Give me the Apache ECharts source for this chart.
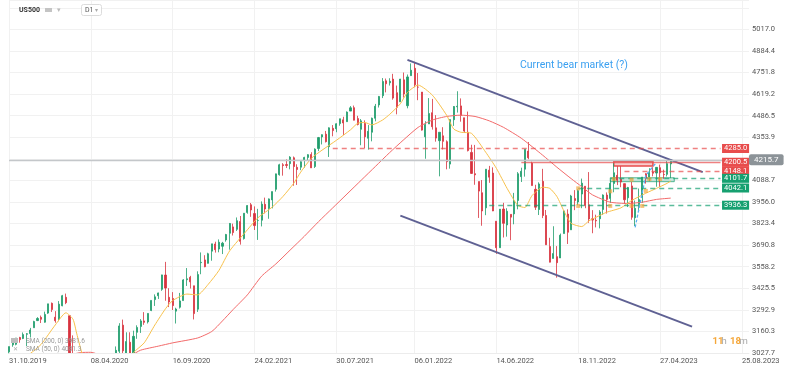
<!DOCTYPE html>
<html><head><meta charset="utf-8">
<script src="https://cdn.jsdelivr.net/npm/echarts@6/dist/echarts.min.js"></script>
<style>html,body{margin:0;padding:0;background:#fff}#c{width:791px;height:383px}</style>
</head><body><div id="c"></div>
<script>
// ---- axis ticks ----
const xTickLabels = ['31.10.2019','08.04.2020','16.09.2020','24.02.2021','30.07.2021','06.01.2022','14.06.2022','18.11.2022','27.04.2023','25.08.2023'];
const xTickSlots = [0,23,46,69,92,114,137,160,183,206];
const yTickLabels = ['3027.7','3160.3','3292.9','3425.5','3558.2','3690.8','3823.4','3956.0','4088.7','4221.3','4353.9','4486.5','4619.2','4751.8','4884.4','5017.0'];
const yMin = 3027.7, yStep = 132.62, yMax = 5198;
const slotCount = 209; // weekly slots, incl. future space

// ---- weekly candles [open, close, low, high] ----
const w2019 = [[3035,3067,3023,3067],[3078,3093,3066,3097],[3081,3120,3075,3120],[3123,3110,3091,3127],[3117,3141,3113,3154],[3143,3146,3070,3150],[3147,3169,3123,3182],[3183,3221,3183,3226],[3227,3240,3224,3248]];
const w2020 = [[3247,3235,3212,3258],[3217,3265,3214,3282],[3273,3330,3268,3330],[3333,3295,3280,3338],[3248,3226,3214,3285],[3236,3328,3223,3347],[3318,3380,3315,3385],[3370,3337,3328,3393],[3257,2954,2855,3259],[2974,2972,2945,3136],[2863,2711,2478,2882],[2508,2305,2280,2553],[2290,2541,2192,2637],[2514,2489,2447,2641],[2578,2790,2574,2818],[2782,2875,2727,2880],[2845,2837,2727,2868],[2854,2831,2822,2955],[2815,2930,2797,2932],[2915,2864,2766,2954],[2910,2955,2910,2980],[2997,3044,2970,3068],[3039,3194,3025,3211],[3199,3041,2984,3233],[3000,3098,2965,3155],[3094,3009,3005,3155],[3018,3130,3000,3165],[3155,3185,3115,3198],[3191,3225,3151,3236],[3225,3216,3201,3279],[3219,3271,3209,3272],[3289,3351,3285,3352],[3356,3373,3317,3388],[3380,3397,3360,3399],[3419,3508,3410,3509],[3507,3427,3349,3588],[3370,3341,3310,3426],[3363,3319,3292,3402],[3285,3298,3209,3306],[3309,3348,3301,3397],[3350,3477,3350,3482],[3478,3484,3440,3550],[3493,3465,3424,3502],[3441,3270,3234,3441],[3297,3510,3280,3530],[3583,3585,3512,3646],[3600,3558,3555,3629],[3579,3638,3578,3644],[3654,3699,3595,3699],[3698,3663,3645,3712],[3667,3709,3647,3726],[3684,3703,3636,3711],[3723,3756,3712,3760]];
const w2021 = [[3764,3824,3663,3827],[3803,3768,3750,3823],[3788,3841,3778,3861],[3836,3714,3694,3870],[3731,3887,3725,3887],[3892,3934,3884,3937],[3939,3907,3865,3950],[3885,3811,3784,3929],[3842,3842,3723,3914],[3844,3943,3806,3960],[3942,3913,3886,3983],[3916,3975,3853,3978],[3969,4020,3917,4020],[4034,4129,4020,4130],[4124,4185,4118,4191],[4185,4180,4118,4195],[4186,4181,4165,4218],[4192,4232,4157,4238],[4228,4174,4056,4236],[4169,4156,4061,4188],[4170,4204,4152,4213],[4216,4230,4167,4234],[4230,4247,4210,4250],[4248,4166,4165,4262],[4174,4281,4165,4286],[4285,4352,4269,4356],[4356,4370,4310,4372],[4373,4327,4322,4393],[4296,4412,4233,4415],[4409,4395,4360,4429],[4406,4437,4385,4440],[4438,4468,4425,4468],[4461,4442,4367,4480],[4450,4509,4450,4513],[4515,4535,4515,4546],[4536,4459,4458,4549],[4469,4433,4427,4486],[4403,4455,4305,4466],[4439,4357,4288,4458],[4348,4391,4278,4429],[4385,4471,4329,4475],[4471,4545,4452,4559],[4553,4605,4537,4608],[4610,4697,4595,4718],[4701,4683,4630,4715],[4689,4698,4672,4717],[4712,4595,4585,4744],[4628,4538,4495,4672],[4572,4712,4572,4713],[4707,4620,4598,4752],[4548,4725,4532,4740],[4733,4766,4733,4808]];
const w2022 = [[4778,4677,4662,4818],[4662,4662,4582,4749],[4632,4398,4395,4632],[4357,4432,4222,4453],[4436,4500,4436,4595],[4505,4419,4401,4590],[4412,4349,4327,4490],[4333,4385,4114,4385],[4363,4329,4279,4416],[4327,4204,4157,4335],[4189,4463,4161,4465],[4462,4543,4424,4546],[4541,4545,4506,4637],[4547,4488,4450,4593],[4474,4392,4381,4474],[4385,4272,4267,4512],[4261,4132,4129,4308],[4130,4123,4062,4307],[4082,4023,3858,4082],[4013,3901,3810,4091],[3920,4158,3875,4158],[4152,4109,4074,4178],[4134,3901,3900,4169],[3838,3675,3637,3838],[3675,3912,3675,3913],[3913,3825,3738,3951],[3815,3899,3743,3918],[3880,3863,3721,3880],[3883,3962,3819,4012],[3965,4130,3911,4140],[4112,4145,4079,4167],[4158,4280,4112,4280],[4269,4228,4219,4325],[4195,4057,4057,4204],[4034,3924,3907,4062],[3910,4067,3876,4077],[4083,3873,3857,4160],[3873,3693,3693,3907],[3682,3586,3585,3736],[3609,3639,3609,3807],[3620,3583,3491,3685],[3612,3752,3612,3762],[3762,3901,3762,3905],[3882,3770,3698,3911],[3785,3993,3785,4000],[3977,3965,3906,4029],[3956,4026,3936,4034],[4005,4072,3918,4100],[4053,3934,3918,4053],[3939,3852,3828,4140],[3853,3845,3764,3906],[3843,3840,3800,3878]];
const w2023 = [[3853,3895,3794,3906],[3910,3999,3877,4003],[3999,3972,3885,4015],[3978,4071,3950,4094],[4070,4136,4016,4195],[4120,4090,4060,4176],[4096,4079,4047,4176],[4069,3970,3944,4070],[3982,4045,3925,4049],[4055,3862,3847,4079],[3859,3917,3808,3965],[3940,3971,3901,4039],[3986,4109,3951,4110],[4130,4105,4069,4133],[4110,4137,4084,4164],[4140,4133,4114,4170],[4134,4169,4050,4170],[4167,4136,4048,4186],[4126,4124,4099,4155],[4126,4192,4113,4212],[4190,4215.7,4103,4218]];

// ---- moving averages [slot, value] ----
const sma50 = [[0,2950],[3,2985],[6,3025],[9,3080],[13,3200],[16,3275],[18,3235],[19,3150],[21,2990],[24,2840],[27,2790],[31,2900],[35,3030],[38,3090],[41,3200],[44,3300],[46,3350],[50,3390],[53,3385],[56,3450],[59,3535],[62,3655],[67,3785],[70,3860],[74,3925],[77,3990],[80,4070],[82,4140],[85,4225],[88,4275],[92,4335],[96,4400],[98,4440],[100,4445],[102,4430],[105,4460],[107,4495],[110,4560],[112,4630],[115,4675],[119,4613],[123,4490],[125,4405],[127,4385],[130,4378],[134,4262],[137,4163],[140,4040],[143,3935],[145,3922],[147,3995],[150,4047],[152,4040],[154,3990],[156,3900],[158,3825],[161,3805],[163,3840],[165,3862],[168,3893],[172,3920],[175,3965],[179,4010],[182,4040],[185,4071],[186,4085]];
const sma200 = [[0,2910],[10,2980],[17,3015],[20,3030],[23,3032],[27,3005],[31,2995],[34,3010],[37,3045],[42,3070],[46,3090],[53,3120],[57,3160],[60,3225],[63,3295],[67,3385],[71,3500],[75,3575],[79,3660],[83,3745],[87,3835],[91,3920],[95,4005],[99,4090],[103,4175],[107,4260],[111,4340],[115,4415],[119,4460],[123,4482],[127,4490],[131,4482],[135,4455],[139,4415],[144,4348],[150,4244],[154,4170],[158,4100],[161,4050],[164,4000],[169,3955],[174,3947],[178,3955],[182,3972],[186,3980]];

// ---- drawn annotations ----
const upperTrend = [[112,4830],[195,4140]];
const lowerTrend = [[110,3872],[192,3190]];
const levelPrices = [4285.0,4200.5,4148.1,4101.7,4042.1,3936.3];
const levelStart  = [91,144,173,169,160,135];
const levelKind   = ['res','res','res','sup','sup','sup'];
const levelEnd = 200;
const lastPrice = 4215.7;
const resZone = [[170,4205],[181,4178]];
const supZone = [[169,4105],[187,4081]];
const pivots = [[160,4040],[169,4022],[160,3932],[169,3932],[170,4097],[175,4093],[180,4097],[183,4097],[179,4024],[178,3932],[175,3932]];
const blueRun = [[176,3800],[179,4120],[182,4200]];

const RED = '#e84c4c', GREEN = '#16a070', FONT = 'Roboto, sans-serif';
const candles = [].concat(w2019, w2020, w2021, w2022, w2023);
const cats = Array.from({length: slotCount}, (_, i) => 'w' + i);
const tickSet = new Set(xTickSlots);
const labelAt = {}; xTickSlots.forEach((s, i) => { labelAt[s] = xTickLabels[i]; });

const levelLines = levelPrices.map((p, i) => {
  const isRes = levelKind[i] === 'res';
  const solid = (p === 4200.5);
  return [{
    coord: [levelStart[i], p],
    lineStyle: {color: isRes ? 'rgba(232,76,76,0.7)' : 'rgba(22,160,112,0.7)', width: 1.3, type: solid ? 'solid' : [5, 4]},
    label: {show: true, position: 'end', distance: 1.5, formatter: p.toFixed(1), color: '#fff', backgroundColor: isRes ? RED : GREEN, fontSize: 7.5, fontFamily: FONT, padding: [1, 2, 0, 2], lineHeight: 8}
  }, {coord: [levelEnd, p]}];
});
levelLines.push([{coord:[0, lastPrice], lineStyle:{color:'#c4c7ca', width:1.3, type:'solid'},
  label:{show:true, position:'end', distance:0, formatter: lastPrice.toFixed(1), color:'#fff', backgroundColor:'#8c9398', fontSize:8, fontFamily: FONT, padding:[2,5,1,5], borderRadius:2}}, {coord:[slotCount-1, lastPrice]}]);

const xLabelStyle = {interval: (i) => tickSet.has(i), formatter: (v, i) => labelAt[i] || '', color: '#555', fontSize: 7.5, align: 'left', margin: 4, fontFamily: FONT};

const chart = echarts.init(document.getElementById('c'));
chart.setOption({
  animation: false,
  backgroundColor: '#fff',
  textStyle: {fontFamily: FONT},
  title: {text: 'Current bear market (?)', left: 515, top: 55, textStyle: {color: '#3ba0f0', fontSize: 10.5, fontWeight: 'normal', fontFamily: FONT}},
  grid: {left: 9, right: 42, top: 0, bottom: 30},
  xAxis: [{
    type: 'category', data: cats, boundaryGap: false, position: 'bottom',
    axisLine: {show: false}, axisTick: {show: false}, axisLabel: {show: false},
    splitLine: {show: true, interval: (i) => tickSet.has(i), lineStyle: {color: '#f1f1f1'}}
  }, {
    type: 'category', data: cats, boundaryGap: false, position: 'bottom', z: 60,
    axisLine: {show: true, lineStyle: {color: '#ececec'}},
    axisTick: {show: false}, axisLabel: xLabelStyle, splitLine: {show: false}
  }],
  yAxis: {
    type: 'value', position: 'right', min: yMin, max: yMax, interval: yStep,
    axisLine: {show: false}, axisTick: {show: false},
    splitLine: {lineStyle: {color: '#f1f1f1'}},
    axisLabel: {showMaxLabel: false, color: '#555', fontSize: 7.5, margin: 3, fontFamily: FONT,
      formatter: (v) => { const k = Math.round((v - yMin) / yStep); return yTickLabels[k] || ''; }}
  },
  series: [
    {
      type: 'candlestick', data: candles, barWidth: 1.6, clip: true,
      itemStyle: {color: '#1f9d6c', color0: '#d8323e', borderColor: '#1f9d6c', borderColor0: '#d8323e', borderWidth: 0.8},
      markLine: {symbol: ['none', 'none'], silent: true, animation: false, data: levelLines},
      markArea: {silent: true, data: [
        [{coord: resZone[0], itemStyle: {color: 'rgba(232,76,76,0.28)', borderColor: RED, borderWidth: 1.5}}, {coord: resZone[1]}],
        [{coord: supZone[0], itemStyle: {color: 'rgba(22,160,112,0.22)', borderColor: 'rgba(22,160,112,0.7)', borderWidth: 1}}, {coord: supZone[1]}]
      ]}
    },
    {type: 'line', data: sma200, symbol: 'none', smooth: 0.2, clip: true, lineStyle: {color: '#f26a6a', width: 1}, z: 3},
    {type: 'line', data: sma50, symbol: 'none', smooth: 0.2, clip: true, lineStyle: {color: '#f7c14c', width: 1}, z: 3},
    {type: 'line', data: upperTrend, symbol: 'none', lineStyle: {color: '#5f6193', width: 2}, z: 4},
    {type: 'line', data: lowerTrend, symbol: 'none', lineStyle: {color: '#5f6193', width: 2}, z: 4},
    {type: 'line', data: blueRun, symbol: 'none', lineStyle: {color: '#5ab0f2', width: 1.3, type: [3, 2]}, z: 4},
    {type: 'scatter', data: pivots, symbol: 'rect', symbolSize: 4, itemStyle: {color: 'rgba(242,165,60,0.85)'}, z: 5}
  ],
  graphic: [
    {type: 'rect', z: 50, silent: true, shape: {x: 0, y: 353.5, width: 749.5, height: 30}, style: {fill: '#fff'}},
    {type: 'text', z: 70, x: 19, y: 10, style: {text: 'US500', font: 'bold 7px Roboto', fill: '#333', verticalAlign: 'middle'}},
    {type: 'rect', z: 70, shape: {x: 45, y: 8, width: 7, height: 4}, style: {fill: '#c4c4c4'}},
    {type: 'text', z: 70, x: 57, y: 10, style: {text: '▾', font: '7px Roboto', fill: '#bbb', verticalAlign: 'middle'}},
    {type: 'rect', z: 70, shape: {x: 81.5, y: 4.5, width: 20, height: 11, r: 2}, style: {fill: '#fff', stroke: '#dcdcdc', lineWidth: 1}},
    {type: 'text', z: 70, x: 85, y: 10, style: {text: 'D1', font: '7px Roboto', fill: '#555', verticalAlign: 'middle'}},
    {type: 'text', z: 70, x: 95, y: 10, style: {text: '▾', font: '6px Roboto', fill: '#aaa', verticalAlign: 'middle'}},
    {type: 'rect', z: 70, shape: {x: 11, y: 338, width: 7, height: 5}, style: {fill: '#bdbdbd'}},
    {type: 'text', z: 70, x: 26, y: 341, style: {text: 'SMA (200, 0) 3981.6', font: '6.5px Roboto', fill: '#999', verticalAlign: 'middle'}},
    {type: 'text', z: 70, x: 13, y: 349, style: {text: '✕', font: '6px Roboto', fill: '#aaa', verticalAlign: 'middle'}},
    {type: 'text', z: 70, x: 26, y: 349, style: {text: 'SMA (50, 0) 4081.3', font: '6.5px Roboto', fill: '#999', verticalAlign: 'middle'}},
    {type: 'text', z: 70, x: 712.5, y: 342, style: {text: '11', font: 'bold 9.5px Roboto', fill: '#f5a73a', verticalAlign: 'middle'}},
    {type: 'text', z: 70, x: 721.5, y: 342, style: {text: 'h', font: '9.5px Roboto', fill: '#a9a9a9', verticalAlign: 'middle'}},
    {type: 'text', z: 70, x: 730, y: 342, style: {text: '18', font: 'bold 9.5px Roboto', fill: '#f5a73a', verticalAlign: 'middle'}},
    {type: 'text', z: 70, x: 739.5, y: 342, style: {text: 'm', font: '9.5px Roboto', fill: '#a9a9a9', verticalAlign: 'middle'}}
  ]
});
</script></body></html>
